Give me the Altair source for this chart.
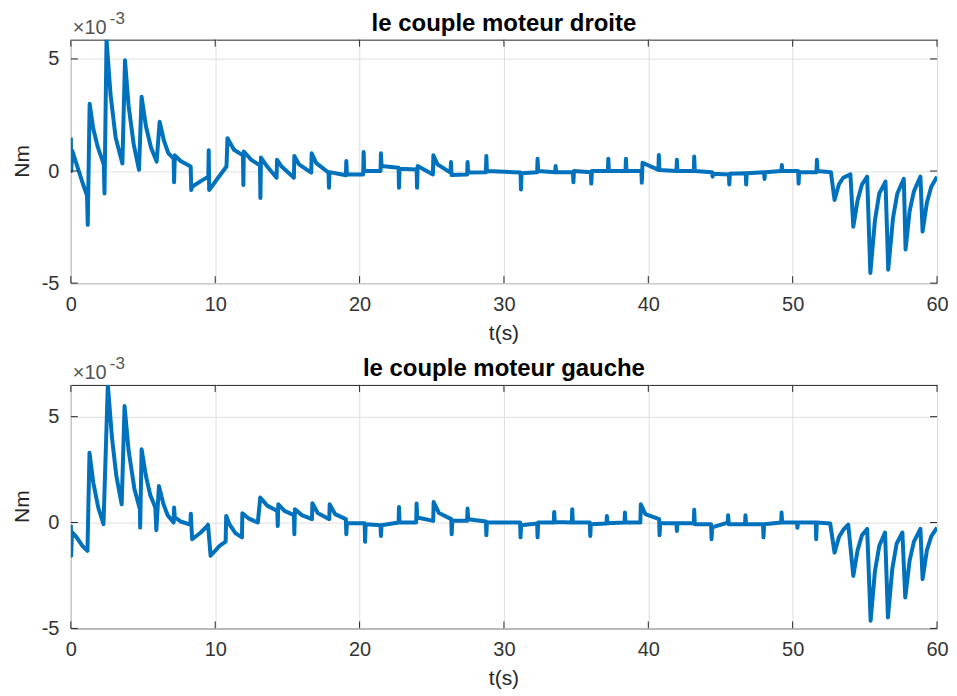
import altair as alt
import pandas as pd

# ---- data (values in units of 1e-3 Nm) ----
T_TOP = [0.00, 0.02, 0.10, 0.50, 0.85, 1.12, 1.17, 1.30, 1.55, 1.85, 2.28, 2.33, 2.47, 2.75, 3.10, 3.57,
         3.75, 4.00, 4.35, 4.72, 4.90, 5.20, 5.55, 5.94, 6.15, 6.45, 6.75, 7.12, 7.15, 7.20, 7.60, 8.30,
         8.34, 8.40, 9.00, 9.52, 9.55, 9.58, 10.20, 10.78, 10.85, 11.30, 11.92, 11.95, 11.98, 12.50, 13.10,
         13.13, 13.17, 13.60, 14.25, 14.28, 14.60, 15.45, 15.48, 15.80, 16.65, 16.68, 17.00, 17.85, 17.88,
         17.92, 19.05, 19.08, 19.12, 20.25, 20.28, 20.32, 21.45, 21.48, 21.52, 22.70, 22.73, 22.77, 23.95,
         23.98, 24.02, 25.08, 25.11, 25.40, 26.30, 26.33, 26.37, 27.45, 27.48, 27.52, 28.75, 28.78, 28.82,
         31.15, 31.18, 31.22, 32.30, 32.33, 32.37, 33.55, 33.58, 33.62, 34.78, 34.81, 34.85, 36.02, 36.05,
         36.09, 37.20, 37.23, 37.27, 38.42, 38.45, 38.49, 39.52, 39.55, 39.60, 40.70, 40.73, 40.77, 41.95,
         41.98, 42.02, 43.15, 43.18, 43.22, 44.42, 44.45, 44.49, 45.58, 45.61, 45.65, 46.75, 46.78, 46.82,
         48.02, 48.05, 48.09, 49.22, 49.25, 49.29, 50.38, 50.41, 50.45, 51.65, 51.68, 51.72, 52.65, 52.90,
         53.20, 53.50, 54.00, 54.20, 54.50, 54.80, 55.16, 55.38, 55.70, 56.00, 56.43, 56.62, 56.95, 57.25,
         57.70, 57.82, 58.10, 58.40, 58.85, 59.00, 59.30, 59.60, 60.00]
V_TOP = [1.50, 0.00, 0.90, 0.10, -0.60, -1.10, -2.40, 3.00, 1.90, 1.10, 0.30, -1.00, 5.86, 3.40, 1.50, 0.34,
         4.94, 2.90, 1.20, 0.05, 3.31, 2.00, 1.05, 0.42, 2.20, 1.35, 0.80, 0.55, -0.50, 0.70, 0.45, 0.20,
         -0.85, -0.70, -0.45, -0.25, 0.93, -0.85, -0.30, 0.20, 1.46, 0.95, 0.70, -0.62, 0.87, 0.50, 0.25,
         -1.20, 0.60, 0.20, -0.30, 0.50, 0.20, -0.30, 0.67, 0.30, -0.07, 0.79, 0.35, -0.07, -0.74,
         -0.05, -0.19, 0.45, -0.15, -0.15, 0.85, 0.00, 0.00, 0.79, 0.22, 0.15, -0.74, 0.10, 0.07,
         -0.74, 0.22, -0.15, 0.70, 0.30, -0.07, 0.40, -0.18, -0.15, 0.40, -0.07, -0.05, 0.67, 0.00,
         -0.07, -0.82, -0.10, -0.05, 0.55, 0.00, -0.05, 0.22, -0.05, -0.05, -0.50, 0.00, -0.05, -0.56,
         0.00, 0.00, 0.55, 0.00, 0.00, 0.55, 0.00, 0.00, -0.52, 0.37, 0.05, 0.72, 0.05, 0.00,
         0.50, 0.00, 0.00, 0.65, 0.00, -0.05, -0.25, -0.12, -0.15, -0.60, -0.12, -0.10, -0.60, -0.10,
         -0.05, -0.35, -0.05, 0.00, 0.27, 0.00, 0.00, -0.56, -0.05, -0.05, 0.50, 0.00, -0.05, -1.29,
         -0.60, -0.30, -0.15, -2.48, -1.30, -0.60, -0.25, -4.55, -2.20, -1.00, -0.47, -4.40, -2.10, -1.00,
         -0.35, -3.50, -1.80, -0.90, -0.25, -2.70, -1.40, -0.70, -0.25]

T_BOT = [0.00, 0.02, 0.08, 0.40, 0.80, 1.15, 1.29, 1.55, 1.90, 2.26, 2.56, 2.85, 3.15, 3.52, 3.72, 4.00,
         4.40, 4.78, 4.80, 4.90, 5.20, 5.50, 5.85, 5.92, 6.10, 6.40, 6.70, 7.12, 7.15, 7.20, 7.60, 8.28,
         8.31, 8.40, 9.00, 9.45, 9.50, 9.68, 10.30, 10.72, 10.76, 11.00, 11.40, 11.85, 11.88, 12.30, 12.95,
         13.12, 13.60, 14.30, 14.33, 14.37, 14.80, 15.45, 15.48, 15.52, 16.00, 16.70, 16.73, 17.10, 17.90,
         17.93, 18.30, 19.05, 19.08, 19.12, 20.35, 20.38, 20.42, 21.45, 21.48, 21.52, 22.70, 22.73, 22.77,
         23.92, 23.95, 23.99, 25.10, 25.13, 25.50, 26.35, 26.38, 26.42, 27.45, 27.48, 27.52, 28.75, 28.78,
         28.82, 31.12, 31.15, 31.19, 32.30, 32.33, 32.37, 33.45, 33.48, 33.52, 34.70, 34.73, 34.77, 35.95,
         35.98, 36.02, 37.10, 37.13, 37.17, 38.35, 38.38, 38.42, 39.45, 39.48, 39.80, 40.75, 40.78, 40.82,
         41.95, 41.98, 42.02, 43.15, 43.18, 43.22, 44.35, 44.38, 44.42, 45.50, 45.53, 45.57, 46.70, 46.73,
         46.77, 47.95, 47.98, 48.02, 49.20, 49.23, 49.27, 50.30, 50.33, 50.37, 51.60, 51.63, 51.67, 52.60,
         52.90, 53.20, 53.50, 53.85, 54.20, 54.50, 54.80, 55.16, 55.40, 55.70, 56.00, 56.40, 56.60, 56.90,
         57.20, 57.60, 57.80, 58.10, 58.40, 58.85, 59.00, 59.30, 59.60, 60.00]
V_BOT = [-0.10, -1.57, -0.45, -0.70, -1.10, -1.34, 3.30, 1.90, 0.70, -0.08, 6.50, 4.00, 2.20, 0.86, 5.50, 3.40,
         1.60, 0.63, -0.24, 3.46, 2.20, 1.30, 0.71, -0.36, 1.73, 0.90, 0.35, 0.00, 0.71, 0.24, 0.05, -0.10,
         0.42, -0.79, -0.47, -0.16, -0.10, -1.57, -1.10, -0.90, 0.31, -0.10, -0.50, -0.70, 0.44, 0.20, 0.00,
         1.18, 0.80, 0.55, -0.16, 0.86, 0.55, 0.35, -0.55, 0.63, 0.35, 0.16, 0.91, 0.45, 0.16,
         0.86, 0.40, 0.16, -0.55, -0.03, -0.03, -0.91, -0.08, -0.13, -0.63, -0.13, 0.00, 0.74, 0.00,
         0.00, 0.90, 0.24, 0.08, 0.97, 0.45, 0.16, -0.55, 0.08, 0.08, 0.66, 0.16, 0.05, -0.60,
         0.00, 0.00, -0.70, -0.13, -0.05, -0.70, 0.00, 0.00, 0.50, 0.03, 0.00, 0.63, 0.00, 0.00,
         -0.63, -0.08, -0.05, 0.31, -0.03, 0.00, 0.47, 0.00, 0.00, 0.86, 0.40, 0.16, -0.60, -0.03,
         -0.03, -0.40, -0.03, -0.03, 0.60, -0.08, -0.08, -0.79, -0.23, 0.00, 0.35, -0.08, -0.08, 0.35,
         -0.08, -0.08, -0.70, -0.08, 0.00, 0.47, 0.00, 0.00, -0.25, 0.00, 0.00, -0.79, 0.00, -0.05,
         -1.42, -0.70, -0.35, -0.10, -2.52, -1.30, -0.60, -0.30, -4.64, -2.30, -1.10, -0.47, -4.48, -2.20,
         -1.00, -0.47, -3.54, -1.80, -0.90, -0.30, -2.67, -1.30, -0.65, -0.24]

X_TICKS = [0, 10, 20, 30, 40, 50, 60]
Y_TICKS = [-5, 0, 5]
TITLES = ["le couple moteur droite", "le couple moteur gauche"]
Y_DOMAINS = [[-5, 5.86], [-5, 6.5]]

W, H = 868, 244
FONT = "Liberation Sans"
AX = "#262626"
LABEL_EXPR = "datum.value < 0 ? '-' + toString(-datum.value) : toString(datum.value)"


def panel(T, V, dom, title, anchor):
    df = pd.DataFrame({"t": T, "v": V, "i": list(range(len(T)))})
    xs = alt.Scale(domain=[0, 60], nice=False, zero=False)
    ys = alt.Scale(domain=dom, nice=False, zero=False)
    xax = alt.Axis(values=X_TICKS, labelPadding=11, grid=True, labelFlush=False, labelExpr=LABEL_EXPR)
    yax = alt.Axis(values=Y_TICKS, labelPadding=12, grid=True, labelFlush=False, labelExpr=LABEL_EXPR)
    X = lambda: alt.X("t:Q", scale=xs, title=None, axis=xax)
    Y = lambda: alt.Y("v:Q", scale=ys, title=None, axis=yax)

    line = alt.Chart(df).mark_line(color="#0072BD", strokeWidth=4, clip=True,
                                   strokeJoin="round", strokeCap="butt").encode(
        x=X(), y=Y(), order="i:Q")
    xt = pd.DataFrame({"t": X_TICKS})
    yt = pd.DataFrame({"v": Y_TICKS})
    tick_top = alt.Chart(xt).mark_rule(color=AX, strokeWidth=1).encode(
        x=X(), y=alt.value(0), y2=alt.value(7))
    tick_bot = alt.Chart(xt).mark_rule(color=AX, strokeWidth=1).encode(
        x=X(), y=alt.value(H - 7), y2=alt.value(H))
    tick_l = alt.Chart(yt).mark_rule(color=AX, strokeWidth=1).encode(
        y=Y(), x=alt.value(0), x2=alt.value(7))
    tick_r = alt.Chart(yt).mark_rule(color=AX, strokeWidth=1).encode(
        y=Y(), x=alt.value(W - 7), x2=alt.value(W))

    ttl = alt.Chart(pd.DataFrame({"s": [title]})).mark_text(
        font=FONT, fontSize=24, fontWeight="bold", color="#000000",
        align="center", baseline="alphabetic").encode(
        x=alt.value(W / 2), y=alt.value(-9), text="s:N")
    xlab = alt.Chart(pd.DataFrame({"s": ["t(s)"]})).mark_text(
        font=FONT, fontSize=21, color=AX, align="center", baseline="alphabetic").encode(
        x=alt.value(W / 2), y=alt.value(H + 57), text="s:N")
    ylab = alt.Chart(pd.DataFrame({"s": ["Nm"]})).mark_text(
        font=FONT, fontSize=21, color=AX, align="center", baseline="alphabetic", angle=270).encode(
        x=alt.value(-42), y=alt.value(H / 2), text="s:N")
    exp1 = alt.Chart(pd.DataFrame({"s": ["\u00d710"]})).mark_text(
        font=FONT, fontSize=20, color="#555555", align="left", baseline="alphabetic").encode(
        x=alt.value(2), y=alt.value(-6), text="s:N")
    exp2 = alt.Chart(pd.DataFrame({"s": ["-3"]})).mark_text(
        font=FONT, fontSize=17, color="#555555", align="left", baseline="alphabetic").encode(
        x=alt.value(39), y=alt.value(-16), text="s:N")
    layers = [line, tick_top, tick_bot, tick_l, tick_r, ttl, xlab, ylab, exp1, exp2]
    if anchor:
        anc = alt.Chart(pd.DataFrame({"a": [0]})).mark_rule(strokeOpacity=0, strokeWidth=0).encode(
            x=alt.value(-62), x2=alt.value(-61), y=alt.value(-30), y2=alt.value(-29))
        layers.append(anc)
    return alt.layer(*layers).properties(width=W, height=H)


top = panel(T_TOP, V_TOP, Y_DOMAINS[0], TITLES[0], True)
bot = panel(T_BOT, V_BOT, Y_DOMAINS[1], TITLES[1], False)

chart = alt.vconcat(top, bot, spacing=102, bounds="flush").properties(
    padding={"left": 0, "top": 0, "right": 0, "bottom": 0}, background="white"
).configure_view(stroke=AX, strokeWidth=1).configure_axis(
    grid=True, gridColor="#dfdfdf", gridWidth=1, ticks=False, domain=False,
    labelFont=FONT, labelFontSize=20, labelColor="#333333",
)

chart.save("out.html", embed_options={"renderer": "svg", "actions": False})
